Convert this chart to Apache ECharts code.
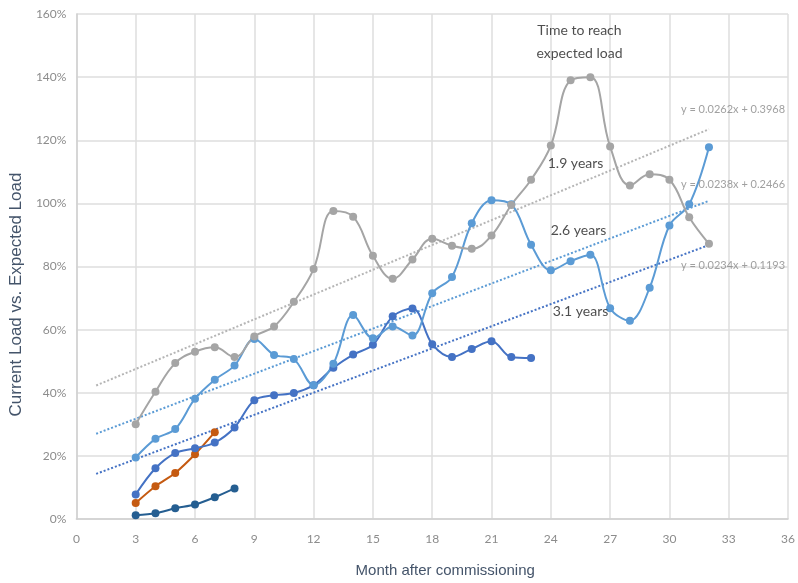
<!DOCTYPE html>
<html>
<head>
<meta charset="utf-8">
<script src="https://cdn.jsdelivr.net/npm/echarts@6/dist/echarts.min.js"></script>
<style>
  html, body { margin: 0; padding: 0; background: #fff; }
  #chart { width: 798px; height: 583px; }
</style>
</head>
<body>
<div id="chart"></div>
<script>
// months after commissioning for each site
const monthsA = [3, 4, 5, 6, 7, 8, 9, 10, 11, 12, 13, 14, 15, 16, 17, 18, 19, 20, 21, 22, 23, 24, 25, 26, 27, 28, 29, 30, 31, 32]
const monthsB = [3, 4, 5, 6, 7, 8, 9, 10, 11, 12, 13, 14, 15, 16, 17, 18, 19, 20, 21, 22, 23]
const monthsC = [3, 4, 5, 6, 7]
const monthsD = [3, 4, 5, 6, 7, 8]

// load vs expected load, %
const greySite = [30, 40.3, 49.4, 53, 54.4, 51.3, 57.8, 61, 68.8, 79.2, 97.6, 95.8, 83.4, 76.1, 82.2, 88.8, 86.6, 85.6, 89.8, 99.5, 107.5, 118.3, 139, 140, 118, 105.7, 109.2, 107.5, 95.6, 87.2]
const lightSite = [19.5, 25.4, 28.5, 38.1, 44.1, 48.6, 57, 52, 50.7, 42.4, 49.2, 64.6, 57.3, 61, 58.1, 71.5, 76.7, 93.7, 101, 99.7, 86.9, 78.8, 81.7, 83.7, 66.8, 62.8, 73.3, 93, 99.7, 117.8]
const blueSite = [7.8, 16.1, 20.9, 22.4, 24.2, 29, 37.6, 39.2, 39.9, 42.4, 47.9, 52.1, 55.2, 64.2, 66.7, 55.4, 51.3, 53.9, 56.3, 51.3, 51]
const orangeSite = [5.1, 10.4, 14.6, 20.5, 27.5]
const navySite = [1.2, 1.8, 3.4, 4.6, 6.9, 9.7]

// trend line end points [month, %]
const greyTrend = [[1, 42.3], [32, 123.5]]
const lightTrend = [[1, 27], [32, 100.8]]
const blueTrend = [[1, 14.3], [32, 86.8]]

const xTicks = [0, 3, 6, 9, 12, 15, 18, 21, 24, 27, 30, 33, 36]
const yTicks = [0, 20, 40, 60, 80, 100, 120, 140, 160]

// annotation texts [month, %, text]
const notes = [
  [25.45, 151, 'Time to reach\nexpected load'],
  [25.25, 112.6, '1.9 years'],
  [25.4, 91.5, '2.6 years'],
  [25.5, 65.7, '3.1 years']
]
const equations = [
  [35.85, 129.9, 'y = 0.0262x + 0.3968'],
  [35.85, 106, 'y = 0.0238x + 0.2466'],
  [35.85, 80.2, 'y = 0.0234x + 0.1193']
]

const narrow = 'Lato, "Open Sans", sans-serif'

function pair(xs, ys) {
  return xs.map((x, i) => [x, ys[i]])
}

function site(name, xs, ys, color, smooth) {
  return {
    name: name,
    type: 'line',
    data: pair(xs, ys),
    smooth: smooth,
    symbol: 'circle',
    symbolSize: 8,
    lineStyle: { color: color, width: 2 },
    itemStyle: { color: color },
    z: 3
  }
}

function trend(name, pts, color) {
  return {
    name: name,
    type: 'line',
    data: pts,
    symbol: 'none',
    lineStyle: { color: color, width: 2, type: [2, 2] },
    z: 2
  }
}

const chart = echarts.init(document.getElementById('chart'))
chart.setOption({
  animation: false,
  textStyle: { fontFamily: narrow },
  grid: { left: 71, right: 5, top: 14, bottom: 60 },
  xAxis: {
    type: 'value',
    min: xTicks[0],
    max: xTicks[xTicks.length - 1],
    interval: 3,
    name: 'Month after commissioning',
    nameLocation: 'middle',
    nameGap: 44,
    nameTextStyle: { color: '#44546A', fontSize: 15, fontFamily: '"Liberation Sans", sans-serif', padding: [0, 0, 0, 26] },
    axisLine: { lineStyle: { color: '#d0d0d0', width: 1.5 } },
    axisTick: { show: false },
    axisLabel: { color: '#8c8c8c', fontSize: 12, margin: 14 },
    splitLine: { show: true, lineStyle: { color: '#dedede', width: 1.5 } }
  },
  yAxis: {
    type: 'value',
    min: yTicks[0],
    max: yTicks[yTicks.length - 1],
    interval: 20,
    name: 'Current Load vs. Expected Load',
    nameLocation: 'middle',
    nameGap: 45,
    nameTextStyle: { color: '#44546A', fontSize: 17, fontFamily: '"Liberation Sans", sans-serif', padding: [0, 56, 0, 0] },
    axisLine: { show: true, lineStyle: { color: '#d0d0d0', width: 1.5 } },
    axisTick: { show: false },
    axisLabel: { color: '#8c8c8c', fontSize: 12, margin: 10, formatter: '{value}%' },
    splitLine: { lineStyle: { color: '#dedede', width: 1.5 } }
  },
  series: [
    trend('grey trend', greyTrend, '#b5b5b5'),
    trend('light trend', lightTrend, '#5B9BD5'),
    trend('blue trend', blueTrend, '#4472C4'),
    site('navy', monthsD, navySite, '#255E91', 0.3),
    site('orange', monthsC, orangeSite, '#C55A11', 0.3),
    site('blue', monthsB, blueSite, '#4472C4', 0.35),
    site('light', monthsA, lightSite, '#5B9BD5', 0.35),
    site('grey', monthsA, greySite, '#A5A5A5', 0.4),
    {
      name: 'notes',
      type: 'scatter',
      symbolSize: 0,
      silent: true,
      data: notes.map(n => ({ value: [n[0], n[1]], text: n[2] })),
      label: {
        show: true,
        position: 'inside',
        formatter: p => p.data.text,
        color: '#222',
        fontSize: 14,
        lineHeight: 23,
        fontFamily: narrow
      },
      z: 5
    },
    {
      name: 'equations',
      type: 'scatter',
      symbolSize: 0,
      silent: true,
      data: equations.map(n => ({ value: [n[0], n[1]], text: n[2] })),
      label: {
        show: true,
        position: 'left',
        distance: 0,
        formatter: p => p.data.text,
        color: '#888',
        fontSize: 11,
        fontFamily: narrow
      },
      z: 5
    }
  ]
})
</script>
</body>
</html>
